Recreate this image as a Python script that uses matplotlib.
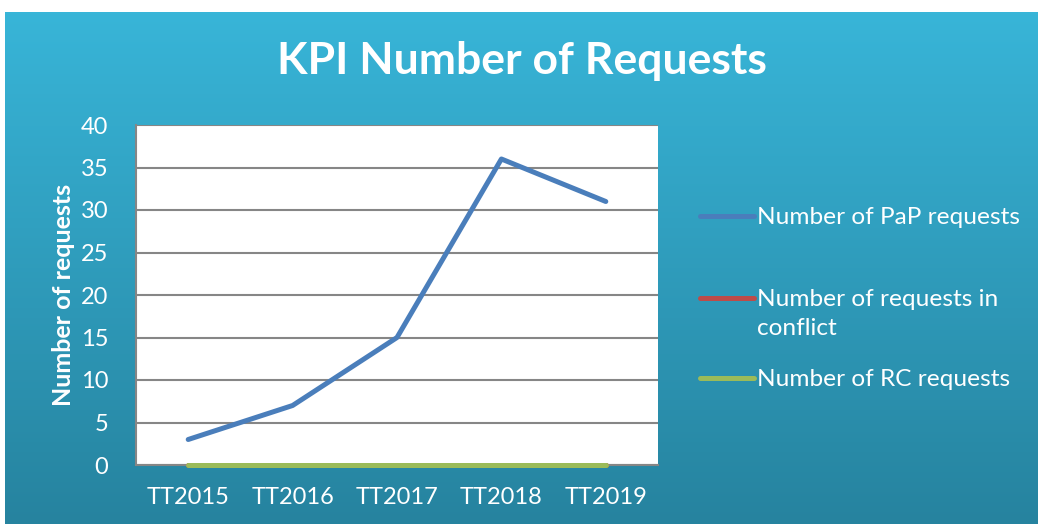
import matplotlib.pyplot as plt
import numpy as np
from matplotlib.lines import Line2D

periods = ['TT2015', 'TT2016', 'TT2017', 'TT2018', 'TT2019']
pap_requests = [3, 7, 15, 36, 31]
conflict_requests = [0, 0, 0, 0, 0]
rc_requests = [0, 0, 0, 0, 0]
series_names = ['Number of PaP requests', 'Number of requests in\nconflict', 'Number of RC requests']
colors = ['#4A7EBB', '#BE4B48', '#9BBB59']

plt.rcParams['font.family'] = ['Lato', 'DejaVu Sans']

W, H = 1038, 524
fig = plt.figure(figsize=(W / 100, H / 100), dpi=100)
fig.patch.set_facecolor('white')

# gradient panel behind the chart
bg = fig.add_axes([5 / W, 0, 1 - 5 / W, (H - 12) / H], zorder=0)
top = np.array([0x38, 0xB5, 0xD8]) / 255
bot = np.array([0x26, 0x83, 0x9F]) / 255
t = np.linspace(0, 1, 256)[:, None]
grad = top[None, :] * (1 - t) + bot[None, :] * t
bg.imshow(grad[:, None, :], aspect='auto', extent=[0, 1, 0, 1])
bg.set_axis_off()

ax = fig.add_axes([136 / W, 1 - 465 / H, (658 - 136) / W, (465 - 125) / H], zorder=1)
ax.set_facecolor('white')
x = np.arange(len(periods))
ax.plot(x, pap_requests, color=colors[0], lw=3.6, solid_capstyle='round', zorder=3)
ax.plot(x, conflict_requests, color=colors[1], lw=3.6, solid_capstyle='round', zorder=3, clip_on=False)
ax.plot(x, rc_requests, color=colors[2], lw=3.6, solid_capstyle='round', zorder=4, clip_on=False)

ax.set_xlim(-0.5, len(periods) - 0.5)
ax.set_ylim(0, 40)
ax.set_yticks(range(0, 41, 5))
ax.set_xticks(x)
ax.set_xticklabels(periods)
ax.grid(axis='y', color='#868686', lw=1.5)
ax.set_axisbelow(True)
for s in ['top', 'right']:
    ax.spines[s].set_visible(False)
for s in ['left', 'bottom']:
    ax.spines[s].set_color('#868686')
    ax.spines[s].set_linewidth(1.5)
ax.tick_params(length=0, colors='white', labelsize=17)
ax.tick_params(axis='y', pad=20)
ax.tick_params(axis='x', pad=16)
ax.set_ylabel('Number of requests', color='white', fontsize=18, fontweight='bold', labelpad=4)

fig.text(522 / W, 1 - 61 / H, 'KPI Number of Requests', color='white', fontsize=32,
         fontweight='bold', ha='center', va='center')

# legend
leg_y = [216, 298, 378]
for name, c, yy in zip(series_names, colors, leg_y):
    fig.add_artist(Line2D([700 / W, 754 / W], [1 - yy / H] * 2, color=c, lw=3.6,
                          solid_capstyle='round', transform=fig.transFigure))
    fig.text(757 / W, 1 - (yy - 9) / H, name, color='white', fontsize=17.6,
             ha='left', va='top', linespacing=1.45)

fig.savefig('out.png', dpi=100)
